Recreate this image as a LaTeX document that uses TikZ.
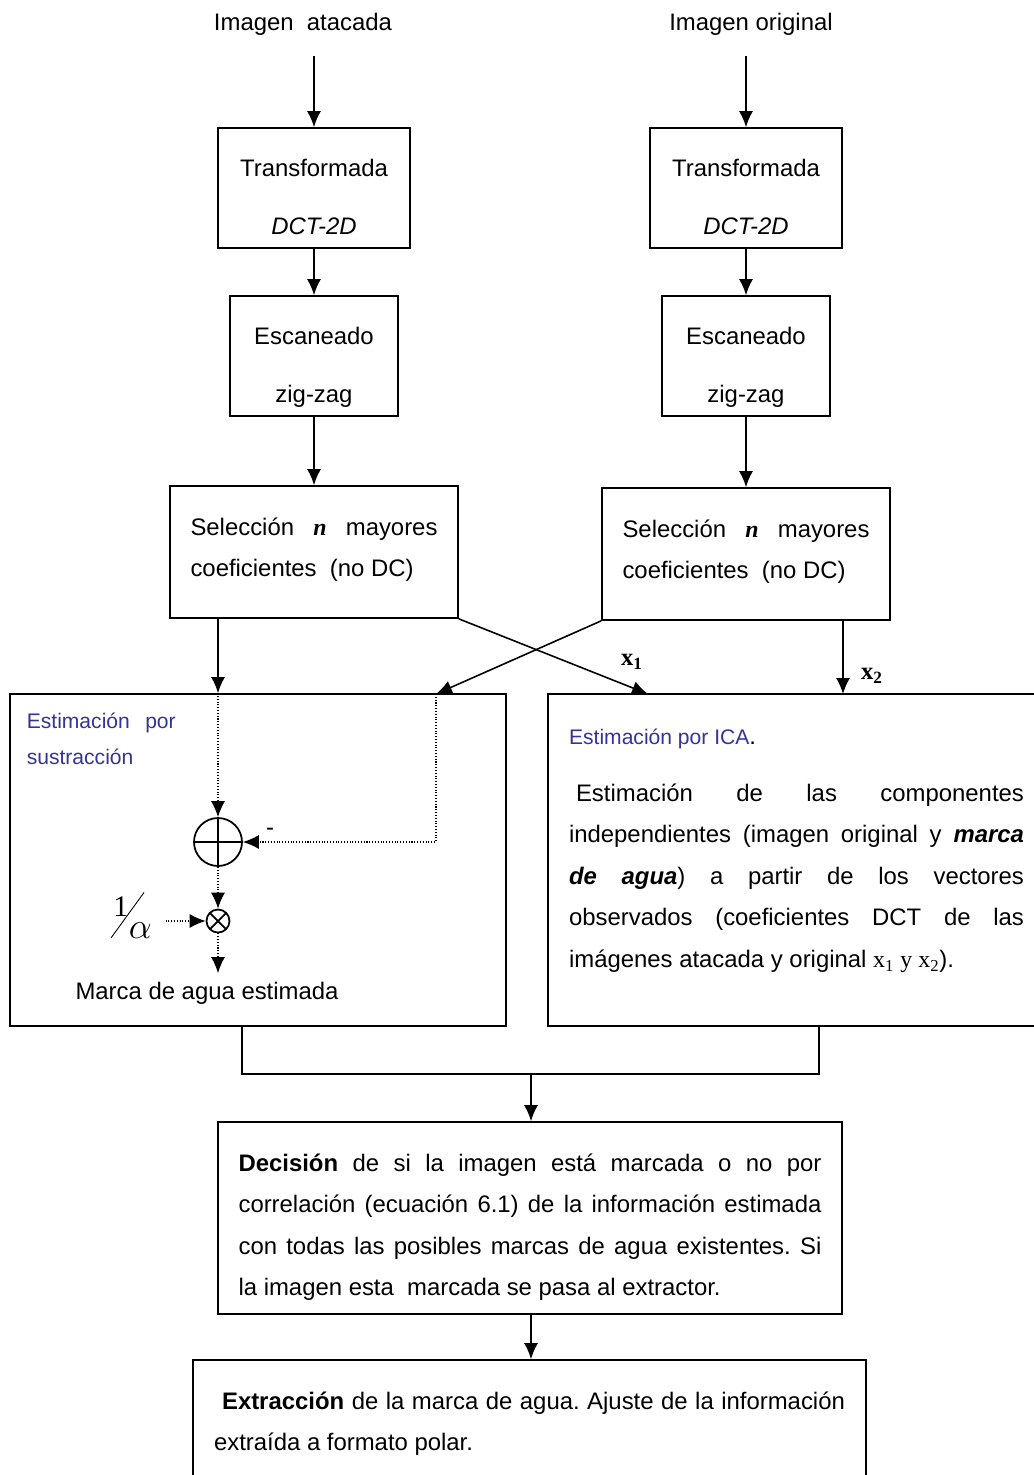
\documentclass[tikz,border=0pt]{standalone}
\usepackage{fontspec}
\usepackage{graphicx}
\setmainfont{Liberation Sans}
\newfontfamily\timesf{Liberation Serif}
\usetikzlibrary{arrows.meta}
\definecolor{headblue}{RGB}{51,51,153}
\frenchspacing

\begin{document}
\begin{tikzpicture}[
    x=0.02cm, y=-0.02cm,
    line width=0.9pt,
    every node/.style={font=\fontsize{13.6}{23.6}\selectfont, inner sep=0pt},
    arr/.style={-{Latex[length=0.32cm,width=0.28cm]}},
    dotarr/.style={arr, dash pattern=on 0.6pt off 1pt, line width=0.7pt},
    box/.style={draw, line width=1pt},
    stepbox/.style={box, align=center, minimum width=#1, minimum height=2.4cm, text height=2.0cm, text depth=0.14cm, font=\fontsize{13.6}{33}\selectfont},
    selbox/.style={box, text width=4.94cm, align=justify, minimum width=5.76cm, minimum height=2.64cm, text height=0.4cm, text depth=1.06cm},
    headtext/.style={text=headblue, font=\fontsize{12}{20.5}\selectfont},
    sumnode/.style={draw, circle, line width=1pt, minimum size=0.96cm, path picture={
        \draw[line width=1pt] (path picture bounding box.north) -- (path picture bounding box.south)
                              (path picture bounding box.west) -- (path picture bounding box.east);}},
    prodnode/.style={draw, circle, line width=1pt, minimum size=0.46cm, path picture={
        \draw[line width=1pt] (path picture bounding box.north west) -- (path picture bounding box.south east)
                              (path picture bounding box.north east) -- (path picture bounding box.south west);}},
    xlabel/.style={font=\timesf\bfseries\fontsize{14}{14}\selectfont}
]
\useasboundingbox (0,0) rectangle (1034,1475);

% inputs and first stages
\node (in1) at (303,24) {Imagen\ \ atacada};
\node (in2) at (751,24) {Imagen original};
\node[stepbox=3.84cm] (t1) at (314,188) {Transformada\\\textit{DCT-2D}};
\node[stepbox=3.84cm] (t2) at (746,188) {Transformada\\\textit{DCT-2D}};
\node[stepbox=3.36cm] (e1) at (314,356) {Escaneado\\zig-zag};
\node[stepbox=3.36cm] (e2) at (746,356) {Escaneado\\zig-zag};
\node[selbox] (s1) at (314,552) {Selección {\timesf\bfseries\itshape n} mayores\linebreak coeficientes\ \ (no DC)};
\node[selbox] (s2) at (746,554) {Selección {\timesf\bfseries\itshape n} mayores\linebreak coeficientes\ \ (no DC)};

\draw[arr, shorten <=0.4cm] (in1.south -| t1.north) -- (t1.north);
\draw[arr, shorten <=0.4cm] (in2.south -| t2.north) -- (t2.north);
\draw[arr] (t1) -- (e1);
\draw[arr] (t2) -- (e2);
\draw[arr] (e1) -- (s1);
\draw[arr] (e2) -- (s2);

% estimation boxes
\node[box, minimum width=9.92cm, minimum height=6.64cm] (sub) at (258,860) {};
\node[box, text width=9.1cm, align=justify, minimum width=9.94cm, minimum height=6.64cm, text height=0.4cm, text depth=5.02cm] (ica) at (796.5,860)
    {{\fontsize{12}{20.5}\selectfont\color{headblue}Estimación por ICA}.\\[0.31cm]
     \hspace*{0.14cm}Estimación de las componentes\linebreak
     independientes (imagen original y \textbf{\textit{marca}}\linebreak
     \textbf{\textit{de agua}}) a partir de los vectores\linebreak
     observados (coeficientes DCT de las\linebreak
     imágenes atacada y original {\timesf x\textsubscript{1} y x\textsubscript{2}}).};

% inside the subtraction box
\node[anchor=base west, text width=2.98cm, align=justify, headtext] (subhead) at (26,728.5)
    {Estimación\ \ por\linebreak sustracción};
\node[sumnode] (sum) at (218,842) {};
\node[prodnode] (prod) at (218,921) {};
\node (minus) at (270,832) {-};
\node[anchor=base west, font=\fontsize{17}{17}\selectfont] (frac) at (110,938)
    {\rotatebox{54}{\rule{1.12cm}{0.5pt}}\kern-0.62cm\raisebox{0.44cm}{\timesf 1}\kern0.01cm{\fontsize{21}{21}\selectfont$\alpha$}};
\node (mark) at (207,993) {Marca de agua estimada};

\coordinate (subin) at (436,694);
\coordinate (x1in) at (648,694);
\coordinate (x2in) at (843,694);

\draw[arr] (s1.south -| sum) -- (sum |- sub.north);
\draw[arr] (s1.south east) -- (x1in);
\draw[arr] (s2.south west) -- (subin);
\draw[arr] (s2.south -| x2in) -- (x2in);
\node[xlabel] (x1) at (632,662) {x\textsubscript{1}};
\node[xlabel] (x2) at (872,676) {x\textsubscript{2}};

\draw[dotarr] (sum |- sub.north) -- (sum);
\draw[dotarr] (subin) |- (sum);
\draw[dotarr] (sum) -- (prod);
\draw[dotarr, shorten <=0.26cm] (frac.east |- prod) -- (prod);
\draw[dotarr, shorten >=0.16cm] (prod) -- (prod |- mark.north);

% decision and extraction
\node[box, text width=11.66cm, align=justify, minimum width=12.48cm, minimum height=3.84cm, text height=0.8cm, text depth=2.66cm] (dec) at (530,1218)
    {\textbf{Decisión} de si la imagen está marcada o no por\linebreak
     correlación (ecuación 6.1) de la información estimada\linebreak
     con todas las posibles marcas de agua existentes. Si\linebreak
     la imagen esta\ \ marcada se pasa al extractor.};
\node[box, text width=12.62cm, align=justify, minimum width=13.46cm, minimum height=2.6cm, text height=0.4cm, text depth=1.02cm] (ext) at (529.5,1425)
    {\hspace*{0.16cm}\textbf{Extracción} de la marca de agua. Ajuste de la información\linebreak
     extraída a formato polar.};

\coordinate (join) at (531,1074);
\draw ([xshift=-0.32cm]sub.south) |- (join) -| ([xshift=0.45cm]ica.south);
\draw[arr] (join) -- (join |- dec.north);
\draw[arr] (dec.south -| join) -- (join |- ext.north);
\end{tikzpicture}
\end{document}
